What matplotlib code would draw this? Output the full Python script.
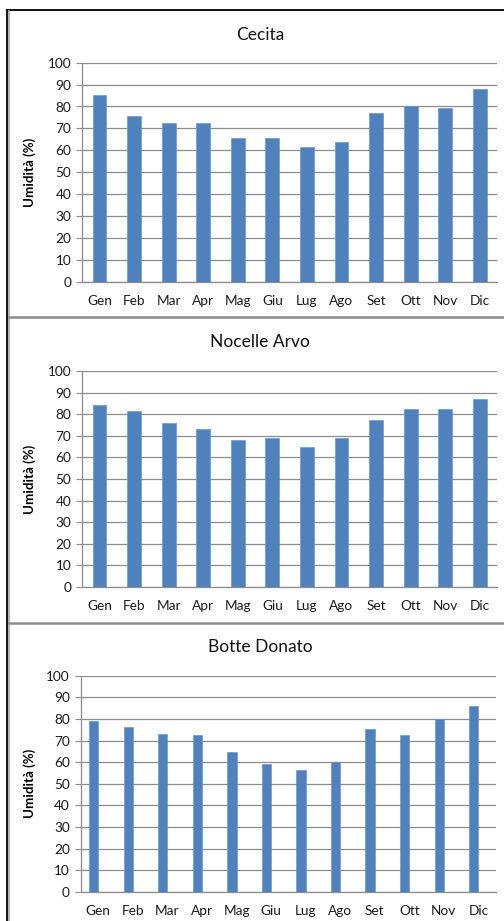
import numpy as np
import matplotlib
matplotlib.use("Agg")
import matplotlib.pyplot as plt
from matplotlib.lines import Line2D

plt.rcParams['font.family'] = ['Lato', 'DejaVu Sans']

# monthly labels (Italian)
months = ['Gen', 'Feb', 'Mar', 'Apr', 'Mag', 'Giu', 'Lug', 'Ago', 'Set', 'Ott', 'Nov', 'Dic']

# relative humidity (%) per station
cecita = [85.2, 75.7, 72.3, 72.3, 65.6, 65.6, 61.5, 63.6, 77.2, 80.4, 79.5, 88.0]
nocelle_arvo = [84.1, 81.6, 75.9, 73.1, 68.1, 69.1, 64.8, 68.8, 77.3, 82.3, 82.6, 86.9]
botte_donato = [78.9, 76.4, 73.0, 72.4, 64.8, 58.9, 56.2, 60.2, 75.5, 72.7, 80.1, 86.1]

stations = ['Cecita', 'Nocelle Arvo', 'Botte Donato']
values = [cecita, nocelle_arvo, botte_donato]

W, H = 504, 921
fig = plt.figure(figsize=(W / 100, H / 100), dpi=100)
fig.patch.set_facecolor('white')

# panel layout in pixels: (left, right, top, bottom, title_y, bar width, bar offset)
panels = [
    (82.3, 497.0, 62.7, 281.7, 34.5, 0.40, 0.0),
    (82.3, 497.0, 371.0, 587.0, 342.3, 0.40, 0.0),
    (81.0, 495.7, 675.7, 891.7, 647.3, 0.27, -0.135),
]

bar_color = '#4F81BD'
grid_color = '#8C8C8C'

for (l, r, t, b, ty, bw, off), name, vals in zip(panels, stations, values):
    ax = fig.add_axes([l / W, 1 - b / H, (r - l) / W, (b - t) / H])
    x = np.arange(len(months))
    ax.bar(x + off, vals, width=bw, color=bar_color, edgecolor='#6C97CC', linewidth=0.5, zorder=3)
    ax.set_xlim(-0.5, len(months) - 0.5)
    ax.set_ylim(0, 100)
    ax.set_yticks(range(0, 101, 10))
    ax.set_xticks(x)
    ax.set_xticklabels(months)
    ax.yaxis.grid(True, color=grid_color, linewidth=0.9, zorder=0)
    ax.set_axisbelow(True)
    for s in ['top', 'right']:
        ax.spines[s].set_visible(False)
    for s in ['left', 'bottom']:
        ax.spines[s].set_color(grid_color)
        ax.spines[s].set_linewidth(0.9)
    ax.tick_params(axis='y', length=4.5, width=0.8, color=grid_color, pad=3.5,
                   labelsize=9.8, labelcolor='#1a1a1a')
    ax.tick_params(axis='x', length=0, pad=9.3, labelsize=9.8, labelcolor='#1a1a1a')
    ax.set_ylabel('Umidità (%)', fontsize=9.6, fontweight='bold', labelpad=8)
    ax.yaxis.set_label_coords((36 - l) / (r - l), 0.5)
    fig.text(260 / W, 1 - ty / H, name, ha='center', va='center', fontsize=12.5, color='#111111')

# panel frames
def hline(y, x0, x1, color, lw):
    fig.add_artist(Line2D([x0 / W, x1 / W], [1 - y / H, 1 - y / H], color=color, linewidth=lw))

def vline(x, y0, y1, color, lw):
    fig.add_artist(Line2D([x / W, x / W], [1 - y0 / H, 1 - y1 / H], color=color, linewidth=lw))

hline(10.3, 7, W, 'black', 1.3)
vline(7.3, 10, H, 'black', 1.3)
vline(9.3, 11, H, '#A6A6A6', 1.2)
hline(317.5, 9, W, '#8C8C8C', 1.8)
hline(623.3, 9, W, '#8C8C8C', 1.8)

fig.savefig('out.png', dpi=100)
